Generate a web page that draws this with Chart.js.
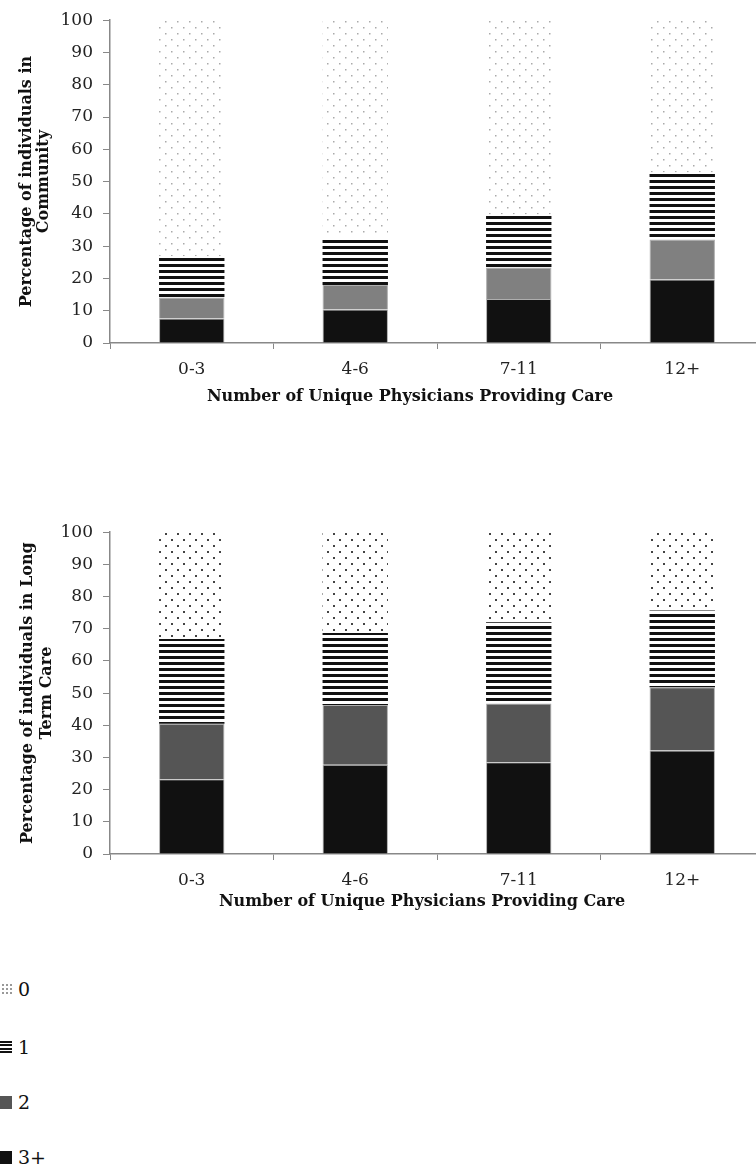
<!DOCTYPE html>
<html>
<head>
<meta charset="utf-8">
<script src="https://cdn.jsdelivr.net/npm/chart.js@4.4.1/dist/chart.umd.min.js"></script>
<style>
body { margin: 0; background: #fff; width: 756px; height: 1167px; overflow: hidden; position: relative; }
canvas { position: absolute; left: 0; }
#community { top: 0; }
#ltc { top: 512px; }
.item { position: absolute; left: -3px; height: 22px; display: flex; align-items: center;
        font-family: "DejaVu Serif"; font-size: 19px; color: #111; }
.sw { width: 15px; height: 13px; margin-right: 6px; }
</style>
</head>
<body>
<canvas id="community" width="770" height="405"></canvas>
<canvas id="ltc" width="770" height="404"></canvas>
<div id="legend"></div>
<script>
// categories and series (percent of individuals, stacked bottom to top)
const categories = ['0-3', '4-6', '7-11', '12+'];
const seriesNames = ['3+', '2', '1', '0'];

const community3plus = [7.6, 10.4, 13.6, 19.7];
const community2 = [6.5, 7.6, 9.8, 12.4];
const community1 = [12.8, 14.8, 16.4, 20.7];
const community0 = [73.1, 67.2, 60.2, 47.2];

const ltc3plus = [23.2, 27.7, 28.5, 32.2];
const ltc2 = [17.3, 18.6, 18.3, 19.6];
const ltc1 = [26.3, 22.4, 25.2, 23.9];
const ltc0 = [33.2, 31.3, 28.0, 24.3];

const yTicks = [0, 10, 20, 30, 40, 50, 60, 70, 80, 90, 100];

// pattern helpers
function dotPattern(color, size) {
    const c = document.createElement('canvas');
    c.width = 12; c.height = 12;
    const g = c.getContext('2d');
    g.fillStyle = '#fff';
    g.fillRect(0, 0, 12, 12);
    g.fillStyle = color;
    g.fillRect(3, 3, size, size);
    g.fillRect(9, 9, size, size);
    return g.createPattern(c, 'repeat');
}
function stripePattern() {
    const c = document.createElement('canvas');
    c.width = 6; c.height = 6;
    const g = c.getContext('2d');
    g.fillStyle = '#fff';
    g.fillRect(0, 0, 6, 6);
    g.fillStyle = '#111';
    g.fillRect(0, 0, 6, 3);
    return g.createPattern(c, 'repeat');
}

const xTitlePlugin = {
    id: 'xTitle',
    afterDraw(chart, args, opts) {
        const ctx = chart.ctx;
        ctx.save();
        ctx.font = 'bold 16px "DejaVu Serif"';
        ctx.fillStyle = '#111';
        ctx.textAlign = 'center';
        ctx.textBaseline = 'middle';
        ctx.fillText(opts.text, opts.x, chart.chartArea.bottom + opts.dy);
        ctx.restore();
    }
};

function makeChart(id, values, yTitle, gray, dots, titleX, titleDy, titleLine) {
    const fills = ['#111', gray, stripePattern(), dots];
    const datasets = values.map((arr, i) => ({
        label: seriesNames[i],
        data: arr,
        backgroundColor: fills[i],
        borderColor: i < 2 ? 'rgba(140,140,140,0.7)' : 'rgba(0,0,0,0)',
        borderWidth: i < 2 ? 1 : 0,
        categoryPercentage: 0.8,
        barPercentage: 0.5
    }));
    return new Chart(document.getElementById(id), {
        type: 'bar',
        data: { labels: categories, datasets: datasets },
        plugins: [xTitlePlugin],
        options: {
            responsive: false,
            animation: false,
            layout: { padding: { top: 19, right: 6, left: 0, bottom: 0 } },
            plugins: {
                legend: { display: false },
                tooltip: { enabled: false },
                xTitle: { text: 'Number of Unique Physicians Providing Care', x: titleX, dy: titleDy }
            },
            scales: {
                x: {
                    stacked: true,
                    grid: { drawOnChartArea: false, drawTicks: true, tickLength: 6, color: '#888', offset: true },
                    border: { display: true, color: '#888', width: 1.5 },
                    ticks: { color: '#222', padding: 10, font: { family: 'DejaVu Serif', size: 17 } },
                    afterFit(scale) { scale.height = 62; }
                },
                y: {
                    stacked: true,
                    min: 0,
                    max: 100,
                    afterBuildTicks(scale) { scale.ticks = yTicks.map(v => ({ value: v })); },
                    grid: { drawOnChartArea: false, drawTicks: true, tickLength: 7, color: '#888' },
                    border: { display: true, color: '#888', width: 1.5 },
                    ticks: { color: '#222', padding: 10, font: { family: 'DejaVu Serif', size: 17 } },
                    title: {
                        display: true,
                        text: yTitle,
                        color: '#111',
                        padding: { top: 18, bottom: 0 },
                        font: { family: 'DejaVu Serif', size: 16, weight: 'bold', lineHeight: titleLine }
                    },
                    afterFit(scale) { scale.width = 110; }
                }
            }
        }
    });
}

makeChart('community',
    [community3plus, community2, community1, community0],
    ['Percentage of individuals in', 'Community'],
    '#808080', dotPattern('#aaa', 1.5), 410, 54, 1.08);

makeChart('ltc',
    [ltc3plus, ltc2, ltc1, ltc0],
    ['Percentage of individuals in Long', 'Term Care'],
    '#555', dotPattern('#444', 2), 422, 48, 1.2);

// legend
const legendY = [989, 1047, 1102, 1157];
const legendSwatch = [
    'background:#fff radial-gradient(circle, #999 0.8px, transparent 1.2px); background-size:4px 4px;',
    'background:repeating-linear-gradient(to bottom, #111 0 2px, #fff 2px 3.5px);',
    'background:#555;',
    'background:#111;'
];
const legendOrder = ['0', '1', '2', '3+'];
const legend = document.getElementById('legend');
legendOrder.forEach((name, i) => {
    const item = document.createElement('div');
    item.className = 'item';
    item.style.top = (legendY[i] - 11) + 'px';
    item.innerHTML = '<div class="sw" style="' + legendSwatch[i] + '"></div><span>' + name + '</span>';
    legend.appendChild(item);
});
</script>
</body>
</html>
